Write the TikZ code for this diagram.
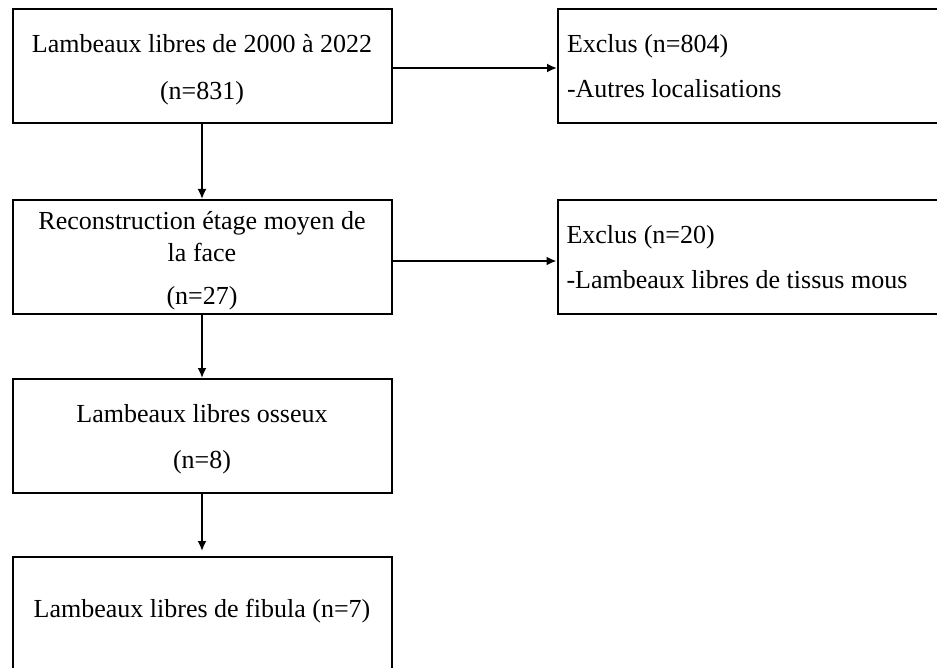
\documentclass[tikz,border=0pt]{standalone}
\usepackage{fontspec}
\setmainfont{Liberation Serif}
\usetikzlibrary{arrows.meta, positioning}

% invisible struts to set the text lower or higher in a box
\newcommand{\topstrut}[1]{\rule{0pt}{#1}}
\newcommand{\botstrut}[1]{\rule[-#1]{0pt}{#1}}

\begin{document}
\begin{tikzpicture}[
    x=0.5pt, y=-0.5pt,
    every node/.style={font=\fontsize{13}{15}\selectfont},
    mainbox/.style={rectangle, draw=black, line width=1pt, minimum width=189.5pt, minimum height=57pt, align=center, inner sep=0pt},
    exclbox/.style={rectangle, draw=black, line width=1pt, minimum width=193.5pt, minimum height=57pt, text width=184.5pt, align=flush left, inner xsep=4.5pt, inner ysep=0pt},
    arrow/.style={line width=0.9pt, -{Latex[length=5pt, width=4.5pt]}}
]
\useasboundingbox (0,0) rectangle (937,668);

% Nodes
\node[mainbox] (src) at (202,66) {\topstrut{12.8pt}Lambeaux libres de 2000 à 2022\\[8.5pt](n=831)};
\node[exclbox] (excl1) at (751.5,66) {Exclus (n=804)\\[7.5pt]-Autres localisations};

\node[mainbox] (midface) at (202,257) {\topstrut{13pt}Reconstruction étage moyen de\\[1pt]la face\\[6.5pt](n=27)};
\node[exclbox] (excl2) at (751,257.5) {Exclus (n=20)\\[7.5pt]-Lambeaux libres de tissus mous};

\node[mainbox] (bone) at (202,436) {\topstrut{12.3pt}Lambeaux libres osseux\\[8pt](n=8)};
\node[mainbox, minimum height=61pt] (fibula) at (202,618) {Lambeaux libres de fibula (n=7)\botstrut{9.5pt}};

% Arrows
\draw[arrow] (src.south) -- (midface.north);
\draw[arrow] (midface.south) -- (bone.north);
\draw[arrow, shorten >=2.5pt] (bone.south) -- (fibula.north);

\draw[arrow] ([yshift=-1pt]src.east) -- ([yshift=-1pt]src.east -| excl1.west);
\draw[arrow] ([yshift=-2pt]midface.east) -- ([yshift=-2pt]midface.east -| excl2.west);

\end{tikzpicture}
\end{document}
